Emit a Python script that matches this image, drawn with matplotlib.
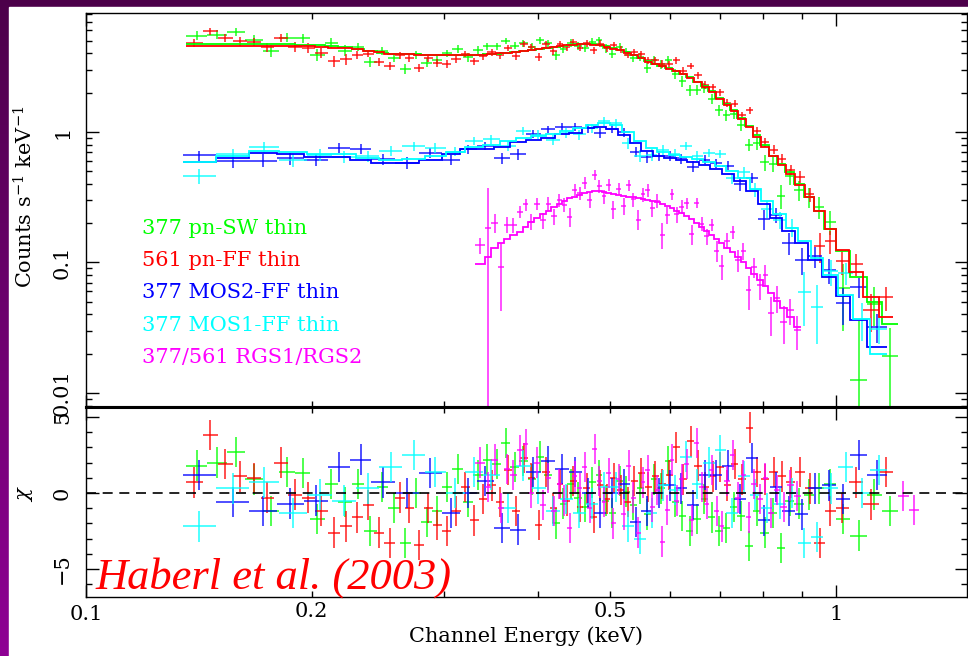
import numpy as np
import matplotlib
matplotlib.use("Agg")
import matplotlib.pyplot as plt
from matplotlib.patches import Rectangle
from matplotlib.ticker import FixedLocator, FixedFormatter, NullFormatter

# ---- spectra: bin edges [keV], model [counts/s/keV], residual chi, error [% of model]
pnsw_edges = [0.136, 0.145, 0.154, 0.163, 0.172, 0.181, 0.190, 0.199, 0.208, 0.217,
              0.226, 0.235, 0.244, 0.253, 0.262, 0.271, 0.280, 0.289, 0.298, 0.308,
              0.318, 0.328, 0.338, 0.348, 0.358, 0.368, 0.378, 0.388, 0.398, 0.408,
              0.418, 0.428, 0.438, 0.448, 0.458, 0.468, 0.478, 0.488, 0.498, 0.509,
              0.520, 0.531, 0.542, 0.554, 0.566, 0.578, 0.591, 0.604, 0.617, 0.631,
              0.645, 0.660, 0.675, 0.690, 0.706, 0.722, 0.739, 0.756, 0.774, 0.793,
              0.813, 0.834, 0.856, 0.880, 0.906, 0.934, 0.965, 1.000, 1.045, 1.100,
              1.150, 1.210]
pnsw_model = [4.72, 4.72, 4.72, 4.71, 4.70, 4.69, 4.67, 4.62, 4.55, 4.45,
              4.32, 4.18, 4.06, 3.99, 3.95, 3.93, 3.92, 3.91, 3.90, 3.90,
              3.90, 3.92, 3.95, 3.99, 4.04, 4.10, 4.17, 4.25, 4.33, 4.41,
              4.49, 4.57, 4.64, 4.69, 4.71, 4.70, 4.64, 4.54, 4.39, 4.24,
              4.07, 3.90, 3.70, 3.48, 3.34, 3.22, 3.07, 2.94, 2.78, 2.62,
              2.43, 2.25, 2.06, 1.83, 1.64, 1.47, 1.28, 1.11, 0.94, 0.79,
              0.66, 0.57, 0.49, 0.40, 0.32, 0.25, 0.18, 0.122, 0.078, 0.050,
              0.034]
pnsw_chi = [1.8, 2.0, 2.7, 0.9, -1.2, 1.4, 1.3, -1.7, 0.6, -0.6,
            0.6, -2.5, 0.4, -1.0, -3.3, 0.0, -1.9, -1.2, 0.4, 1.6,
            -0.6, 1.2, 2.2, 1.9, 3.3, 1.7, 2.1, 0.9, 2.4, 1.2,
            -2.0, -0.7, 0.6, -0.3, -0.9, 0.7, 1.2, -0.5, -1.3, 0.8,
            0.1, -0.8, 0.3, -1.4, 0.9, 0.3, 2.1, -0.6, -1.5, -2.5,
            -1.7, -0.4, -1.6, -2.5, -2.3, -0.9, -1.5, -3.5, -1.2, -2.6,
            -1.3, -3.6, -0.5, -0.7, -0.1, 0.3, 0.6, -1.7, -2.8, -0.1,
            -1.2]
pnsw_err = [9, 9, 9, 9, 9, 9, 9, 9, 9, 9,
            7, 7, 7, 7, 7, 7, 7, 7, 7, 7,
            7, 7, 7, 7, 7, 7, 7, 7, 7, 7,
            7, 7, 7, 7, 7, 7, 7, 7, 7, 7,
            7, 7, 7, 8, 8, 8, 8, 8, 8, 8,
            8, 8, 8, 8, 8, 8, 8, 8, 10, 10,
            11, 12, 13, 15, 17, 20, 24, 28, 30, 32,
            36]

pnff_edges = [0.136, 0.143, 0.150, 0.157, 0.164, 0.171, 0.178, 0.186, 0.194, 0.202,
              0.210, 0.218, 0.226, 0.234, 0.242, 0.250, 0.258, 0.266, 0.274, 0.282,
              0.290, 0.298, 0.307, 0.316, 0.325, 0.334, 0.343, 0.352, 0.361, 0.370,
              0.379, 0.388, 0.397, 0.406, 0.415, 0.424, 0.433, 0.442, 0.451, 0.460,
              0.470, 0.480, 0.490, 0.500, 0.511, 0.522, 0.533, 0.544, 0.556, 0.568,
              0.580, 0.593, 0.606, 0.619, 0.633, 0.647, 0.662, 0.677, 0.692, 0.708,
              0.724, 0.741, 0.758, 0.776, 0.795, 0.815, 0.836, 0.858, 0.882, 0.908,
              0.936, 0.966, 1.000, 1.040, 1.085, 1.140, 1.190]
pnff_model = [4.56, 4.56, 4.56, 4.56, 4.55, 4.55, 4.54, 4.53, 4.52, 4.48,
              4.42, 4.37, 4.30, 4.18, 4.07, 3.99, 3.95, 3.93, 3.91, 3.90,
              3.89, 3.88, 3.88, 3.88, 3.90, 3.92, 3.96, 4.00, 4.05, 4.11,
              4.17, 4.24, 4.31, 4.38, 4.45, 4.52, 4.60, 4.65, 4.69, 4.70,
              4.68, 4.62, 4.50, 4.36, 4.22, 4.05, 3.88, 3.66, 3.45, 3.32,
              3.20, 3.05, 2.92, 2.76, 2.60, 2.41, 2.22, 2.04, 1.80, 1.62,
              1.45, 1.26, 1.09, 0.92, 0.77, 0.65, 0.56, 0.48, 0.39, 0.32,
              0.25, 0.18, 0.125, 0.085, 0.054, 0.038]
pnff_chi = [0.7, 3.8, 1.9, 1.1, 1.0, -0.3, 2.0, -0.1, -0.3, -1.2,
            -2.6, -2.2, -1.6, -0.8, -2.6, -3.3, -0.3, -1.0, -3.4, -1.0,
            -2.1, -2.5, -1.2, 0.4, -1.8, -0.4, 0.5, -0.6, 1.5, -1.2,
            2.3, 1.0, -2.1, 1.4, -1.0, 0.6, -0.5, 0.8, -0.9, 0.3,
            -1.6, 0.5, -0.4, 1.0, 0.2, -0.6, 0.8, 1.3, 0.4, 1.1,
            0.6, 1.2, 3.0, 0.9, 3.4, 1.8, 0.4, 1.1, 1.7, 0.5,
            1.9, 0.9, 4.3, 1.4, 0.9, 1.4, 1.1, 0.7, 1.4, 0.3,
            -3.3, -1.2, -1.0, 0.7, -0.75, 1.4]
pnff_err = [8, 8, 8, 8, 8, 8, 8, 8, 8, 8,
            8, 8, 6, 6, 6, 6, 6, 6, 6, 6,
            6, 6, 6, 6, 6, 6, 6, 6, 6, 6,
            6, 6, 6, 6, 6, 6, 6, 6, 6, 6,
            6, 6, 6, 6, 6, 6, 6, 6, 6, 6,
            7, 7, 7, 7, 7, 7, 7, 7, 7, 7,
            7, 7, 8, 8, 9, 9, 10, 10, 12, 13,
            14, 16, 18, 22, 26, 30]

mos2_edges = [0.1347, 0.149, 0.165, 0.180, 0.195, 0.210, 0.225, 0.240, 0.258, 0.278,
              0.298, 0.315, 0.332, 0.350, 0.368, 0.386, 0.404, 0.422, 0.440, 0.458,
              0.476, 0.494, 0.512, 0.531, 0.550, 0.570, 0.590, 0.611, 0.633, 0.656,
              0.680, 0.705, 0.731, 0.758, 0.786, 0.816, 0.848, 0.882, 0.918, 0.958,
              1.000, 1.045, 1.100, 1.170]
mos2_model = [0.59, 0.635, 0.686, 0.675, 0.647, 0.647, 0.61, 0.58, 0.58, 0.61,
              0.68, 0.737, 0.737, 0.77, 0.84, 0.87, 0.895, 0.965, 0.99, 1.07,
              1.10, 1.06, 0.95, 0.83, 0.72, 0.66, 0.63, 0.61, 0.585, 0.555,
              0.52, 0.475, 0.42, 0.35, 0.28, 0.22, 0.175, 0.14, 0.105, 0.078,
              0.055, 0.036, 0.0225]
mos2_chi = [1.2, -0.6, -1.2, -0.7, -0.5, 1.7, 2.2, 0.7, 0.0, 1.3,
            -1.3, 0.0, 0.8, -2.3, -2.4, 1.4, 2.1, 1.6, 1.4, 0.0,
            -1.3, 0.0, 0.6, -1.9, -1.2, 0.0, 0.5, 0.3, -0.8, 1.2,
            1.2, 1.8, -0.4, 2.3, -1.8, 0.4, -1.2, -1.4, 0.3, 0.5,
            -0.4, 2.5, 1.2]
mos2_err = [10, 10, 10, 10, 10, 10, 10, 10, 10, 10,
            8, 8, 8, 8, 8, 8, 8, 8, 8, 8,
            8, 8, 8, 8, 9, 9, 9, 9, 9, 9,
            9, 9, 11, 12, 13, 14, 16, 18, 20, 24,
            28, 32, 36]

mos1_edges = [0.1347, 0.149, 0.165, 0.181, 0.197, 0.213, 0.229, 0.246, 0.264, 0.283,
              0.302, 0.320, 0.338, 0.356, 0.374, 0.392, 0.410, 0.428, 0.446, 0.464,
              0.482, 0.500, 0.519, 0.538, 0.558, 0.578, 0.599, 0.620, 0.642, 0.665,
              0.689, 0.714, 0.740, 0.767, 0.795, 0.825, 0.857, 0.890, 0.925, 0.962,
              1.005, 1.055, 1.110, 1.170]
mos1_model = [0.59, 0.66, 0.715, 0.70, 0.675, 0.675, 0.63, 0.61, 0.62, 0.66,
              0.707, 0.77, 0.80, 0.85, 0.895, 0.93, 0.96, 1.02, 1.07, 1.13,
              1.17, 1.13, 1.00, 0.86, 0.76, 0.70, 0.67, 0.645, 0.62, 0.585,
              0.545, 0.50, 0.44, 0.365, 0.295, 0.235, 0.185, 0.145, 0.108, 0.080,
              0.056, 0.037, 0.020]
mos1_chi = [-2.2, 0.3, 0.7, -1.3, -0.1, -0.5, 0.3, 1.7, 2.5, 1.4,
            0.0, 1.4, 1.2, -1.0, 1.8, 0.3, -1.2, -0.4, -1.3, -0.7,
            0.4, 0.4, -2.2, -3.0, -1.3, 0.5, 0.2, 2.4, 0.6, 2.0,
            2.8, -1.3, 1.1, -0.1, -1.0, -0.7, 0.0, -3.3, -2.9, 0.3,
            1.7, 0.0, 1.5]
mos1_err = [10, 10, 10, 10, 10, 10, 10, 10, 10, 10,
            8, 8, 8, 8, 8, 8, 8, 8, 8, 8,
            8, 8, 8, 8, 9, 9, 9, 9, 9, 9,
            9, 9, 11, 12, 13, 14, 16, 18, 20, 24,
            28, 32, 36]

nan = float("nan")
rgs_edges = [0.330, 0.340, 0.347, 0.354, 0.361, 0.368, 0.375, 0.382, 0.389, 0.396,
             0.403, 0.410, 0.417, 0.424, 0.431, 0.438, 0.445, 0.452, 0.459, 0.466,
             0.473, 0.480, 0.487, 0.494, 0.501, 0.509, 0.517, 0.525, 0.533, 0.541,
             0.549, 0.557, 0.565, 0.573, 0.582, 0.591, 0.600, 0.609, 0.618, 0.627,
             0.637, 0.647, 0.657, 0.667, 0.677, 0.688, 0.699, 0.710, 0.722, 0.734,
             0.746, 0.758, 0.771, 0.784, 0.798, 0.812, 0.827, 0.843, 0.860, 0.878,
             0.897, 1.210, 1.250, 1.290]
rgs_model = [0.097, 0.11, 0.13, 0.142, 0.151, 0.162, 0.172, 0.188, 0.205, 0.22,
             0.235, 0.25, 0.265, 0.28, 0.295, 0.31, 0.32, 0.33, 0.34, 0.345,
             0.35, 0.35, 0.345, 0.34, 0.335, 0.33, 0.325, 0.32, 0.315, 0.31,
             0.305, 0.30, 0.295, 0.29, 0.28, 0.27, 0.26, 0.25, 0.24, 0.228,
             0.215, 0.20, 0.188, 0.175, 0.163, 0.15, 0.14, 0.13, 0.12, 0.11,
             0.10, 0.09, 0.082, 0.073, 0.066, 0.058, 0.051, 0.045, 0.038, 0.032,
             nan, 0.0052, 0.0045]
rgs_chi = [2.0, 0.4, 2.2, -1.0, 1.6, 1.2, 2.8, 3.2, 0.0, 2.0,
           -0.8, 1.0, -1.2, 0.6, -0.5, -2.3, 1.1, 0.3, 1.7, -1.0,
           2.9, 0.8, -0.6, 1.3, -2.0, 0.9, -1.4, 1.8, -0.3, -2.6,
           0.7, 1.5, -0.9, 0.2, -3.2, -1.1, 2.2, -0.5, 0.9, 1.9,
           -1.8, 3.3, 0.4, -0.7, 1.5, -1.2, -2.2, 0.8, 2.5, -0.3,
           1.2, -1.6, 0.6, -0.4, 1.0, -1.3, 0.2, -0.9, 0.5, -0.2,
           nan, -0.2, -1.1]
rgs_err = [20, 170, 25, 35, 18, 16, 15, 15, 14, 14,
           13, 13, 12, 12, 12, 12, 12, 12, 12, 12,
           12, 12, 12, 12, 12, 12, 12, 12, 12, 12,
           13, 13, 13, 13, 13, 13, 13, 13, 13, 13,
           13, 13, 13, 13, 13, 15, 15, 16, 17, 18,
           19, 20, 20, 21, 22, 23, 24, 25, 26, 28,
           nan, 45, 45]

labels = ["377 pn-SW thin", "561 pn-FF thin", "377 MOS2-FF thin",
          "377 MOS1-FF thin", "377/561 RGS1/RGS2"]
colors = ["#00ff00", "#ff0000", "#0000ff", "#00ffff", "#ff00ff"]

plt.rcParams["font.family"] = "DejaVu Serif"
plt.rcParams["mathtext.fontset"] = "dejavuserif"

W, H = 968, 656
fig = plt.figure(figsize=(W / 100, H / 100), dpi=100)

# purple slide background with white page
bg = fig.add_axes([0, 0, 1, 1], zorder=-10)
shade = np.linspace(0, 1, 256)[:, None, None]
top_c = np.array([0.30, 0.0, 0.29])
bot_c = np.array([0.56, 0.0, 0.58])
bg.imshow(top_c + shade * (bot_c - top_c), aspect="auto", extent=[0, 1, 0, 1], origin="upper")
bg.add_patch(Rectangle((9 / W, 0), 1, 1 - 7 / H, color="white"))
bg.set_xlim(0, 1)
bg.set_ylim(0, 1)
bg.axis("off")

left, right = 86, 967
ax1 = fig.add_axes([left / W, 1 - 407 / H, (right - left) / W, (407 - 13) / H])
ax2 = fig.add_axes([left / W, 1 - 597 / H, (right - left) / W, (597 - 407) / H])


def draw_model(ax, edges, model, color):
    idx = np.flatnonzero(np.isfinite(model))
    for run in np.split(idx, np.flatnonzero(np.diff(idx) > 1) + 1):
        ax.stairs(model[run], edges[run[0]:run[-1] + 2], color=color, lw=1.3,
                  baseline=None, zorder=3)


def draw_series(edges, model, chi, err, color):
    edges = np.asarray(edges, float)
    model = np.asarray(model, float)
    chi = np.asarray(chi, float)
    sig = model * np.asarray(err, float) / 100.0
    data = model + chi * sig
    c = np.sqrt(edges[:-1] * edges[1:])
    ok = np.isfinite(data)
    xlo = (c - edges[:-1])[ok]
    xhi = (edges[1:] - c)[ok]
    lo = np.minimum(sig, data - 1e-4)
    ax1.errorbar(c[ok], data[ok], xerr=[xlo, xhi], yerr=[lo[ok], sig[ok]],
                 fmt="none", ecolor=color, elinewidth=1.3, alpha=0.75, zorder=2)
    draw_model(ax1, edges, model, color)
    ax2.errorbar(c[ok], chi[ok], xerr=[xlo, xhi], yerr=1.0,
                 fmt="none", ecolor=color, elinewidth=1.3, alpha=0.75, zorder=2)


draw_series(pnsw_edges, pnsw_model, pnsw_chi, pnsw_err, colors[0])
draw_series(pnff_edges, pnff_model, pnff_chi, pnff_err, colors[1])
draw_series(mos2_edges, mos2_model, mos2_chi, mos2_err, colors[2])
draw_series(mos1_edges, mos1_model, mos1_chi, mos1_err, colors[3])
draw_series(rgs_edges, rgs_model, rgs_chi, rgs_err, colors[4])

ax2.axhline(0, color="black", lw=1.2, dashes=(6, 4), zorder=5)

# axes, ticks
minor_x = [0.2, 0.3, 0.4, 0.5, 0.6, 0.7, 0.8, 0.9]
for ax in (ax1, ax2):
    ax.set_xscale("log")
    ax.set_xlim(0.1, 1.495)
    ax.xaxis.set_major_locator(FixedLocator([0.1, 1.0]))
    ax.xaxis.set_minor_locator(FixedLocator(minor_x))
    ax.tick_params(which="both", direction="in", top=True, right=True,
                   width=1.0, labelsize=15, colors="black")
    ax.tick_params(which="major", length=9)
    ax.tick_params(which="minor", length=4.5)
    ax.tick_params(axis="x", pad=6)
    ax.tick_params(axis="y", pad=10, labelrotation=90)
    for sp in ax.spines.values():
        sp.set_linewidth(1.0)

ax1.set_yscale("log")
ax1.set_ylim(0.0078, 8.16)
ax1.yaxis.set_major_locator(FixedLocator([0.01, 0.1, 1.0]))
ax1.yaxis.set_major_formatter(FixedFormatter(["0.01", "0.1", "1"]))
ax1.yaxis.set_minor_locator(FixedLocator([m * d for d in (0.001, 0.01, 0.1, 1.0)
                                          for m in range(2, 10)]))
ax1.yaxis.set_minor_formatter(NullFormatter())
ax1.xaxis.set_major_formatter(NullFormatter())
ax1.xaxis.set_minor_formatter(NullFormatter())
ax1.spines["bottom"].set_linewidth(2.2)

ax2.set_ylim(-6.84, 5.66)
ax2.yaxis.set_major_locator(FixedLocator([-5, 0, 5]))
ax2.yaxis.set_major_formatter(FixedFormatter(["\u22125", "0", "5"]))
ax2.yaxis.set_minor_locator(FixedLocator(list(range(-6, 6))))
ax2.yaxis.set_minor_formatter(NullFormatter())
ax2.xaxis.set_major_formatter(FixedFormatter(["0.1", "1"]))
ax2.xaxis.set_minor_formatter(FixedFormatter(["0.2", "", "", "0.5", "", "", "", ""]))
ax2.spines["top"].set_linewidth(2.2)

for ax in (ax1, ax2):
    plt.setp(ax.get_yticklabels(), va="center")

ax1.set_ylabel("Counts s$^{-1}$ keV$^{-1}$", fontsize=15, va="center")
ax1.yaxis.set_label_coords(-0.069, 0.533)
ax2.set_ylabel(r"$\chi$", fontsize=15, va="center")
ax2.yaxis.set_label_coords(-0.069, 0.547)
ax2.set_xlabel("Channel Energy (keV)", fontsize=15, va="center")
ax2.xaxis.set_label_coords(0.499, -0.205)

# instrument key
for i, (lab, col) in enumerate(zip(labels, colors)):
    ax1.text(0.0636, 0.454 - i * 0.082, lab, color=col, fontsize=15,
             va="center", ha="left", transform=ax1.transAxes)

fig.text(95 / W, 1 - 589 / H, "Haberl et al. (2003)", color="red", fontsize=32,
         family="Liberation Serif", style="italic", ha="left", va="baseline")

fig.savefig("out.png", dpi=100)
